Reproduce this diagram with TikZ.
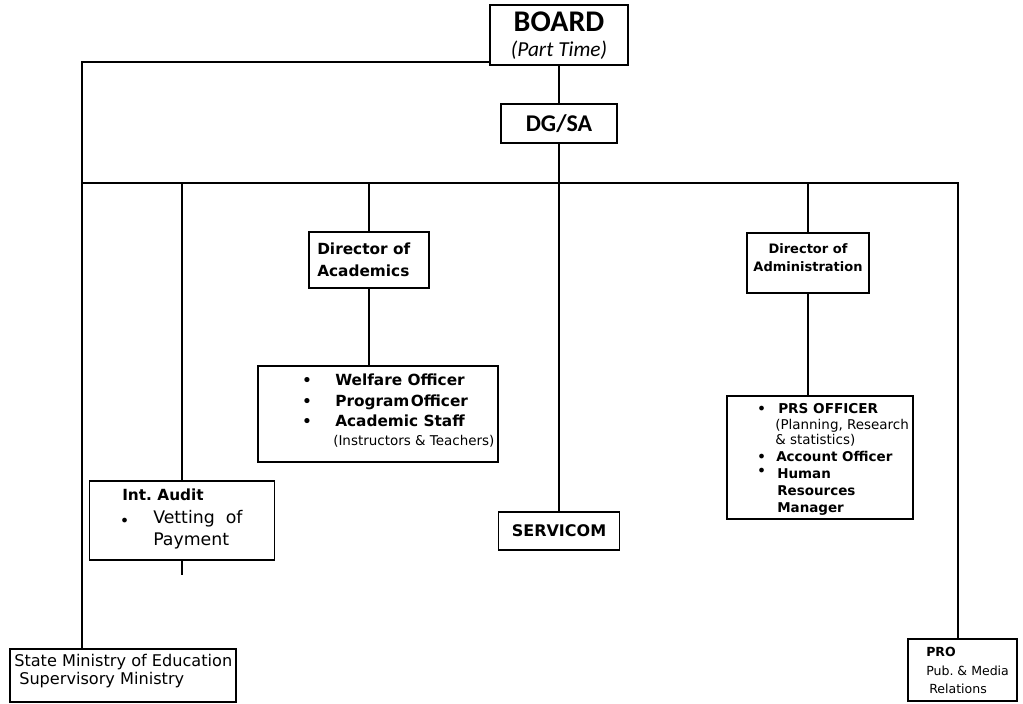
\documentclass[tikz,border=0pt]{standalone}
\usepackage{fontspec}
\setmainfont{DejaVu Sans}
\newfontfamily\carl{Carlito}
\newcommand\fs[1]{\fontsize{#1}{#1}\selectfont}
\begin{document}
\begin{tikzpicture}[x=0.75pt,y=-0.75pt,
 sz/.style 2 args={minimum width=#1*0.75pt, minimum height=#2*0.75pt},
 thinbox/.style={draw, line width=1.1pt, inner sep=0pt},
 thickbox/.style={draw, line width=2.2pt, inner sep=0pt},
 medbox/.style={draw, line width=1.7pt, inner sep=0pt},
 conn/.style={line width=1.1pt},
 lbl/.style={anchor=mid west, inner sep=0pt},
 ctr/.style={inner sep=0pt},
]
\path[use as bounding box] (0,0) rectangle (1023,703);

% boxes
\node[thickbox, sz={138}{60}] (board) at (559,35) {};
\node[ctr, font=\carl\bfseries\fs{22.5}] (boardt) at (559,22) {BOARD};
\node[ctr, font=\carl\itshape\fs{16}] (boardpt) at (559,50) {(Part Time)};

\node[thickbox, sz={116}{39}, font=\carl\bfseries\fs{18}] (dgsa) at (559,123.5) {DG/SA};

\node[medbox, sz={120}{56}] (acad) at (369,260) {};
\node[lbl, font=\bfseries\fs{11.5}] (acad1) at (317,251) {Director of};
\node[lbl, font=\bfseries\fs{11.5}] (acad2) at (317,273) {Academics};

\node[thinbox, sz={240}{96}] (welf) at (378,414) {};
\node[lbl, font=\bfseries\fs{11}] (wb1) at (302,382) {•};
\node[lbl, font=\bfseries\fs{11}] (wb2) at (302,403) {•};
\node[lbl, font=\bfseries\fs{11}] (wb3) at (302,423) {•};
\node[lbl, font=\bfseries\fs{11.5}] (w1) at (335,382) {Welfare Officer};
\node[lbl, font=\bfseries\fs{11.5}] (w2) at (335,403) {Program\hspace{1pt}Officer};
\node[lbl, font=\bfseries\fs{11.5}] (w3) at (335,423) {Academic Staff};
\node[lbl, font=\fs{10.1}] (w4) at (333,442) {(Instructors \& Teachers)};

\node[thinbox, sz={122}{60}] (admin) at (808,263) {};
\node[ctr, font=\bfseries\fs{9.75}] (ad1) at (808,249) {Director of};
\node[ctr, font=\bfseries\fs{9.75}] (ad2) at (808,267) {Administration};

\node[thinbox, sz={186}{123}] (prs) at (820,457.5) {};
\node[lbl, font=\bfseries\fs{10}] (pb1) at (757,410) {•};
\node[lbl, font=\bfseries\fs{10}] (pb2) at (757,458) {•};
\node[lbl, font=\bfseries\fs{10}] (pb3) at (757,472) {•};
\node[lbl, font=\bfseries\fs{10.2}] (p1) at (778,410) {PRS OFFICER};
\node[lbl, font=\fs{10.1}] (p2) at (775,426) {(Planning, Research};
\node[lbl, font=\fs{10.1}] (p3) at (775,441) {\& statistics)};
\node[lbl, font=\bfseries\fs{10.1}] (p4) at (776,458) {Account Officer};
\node[lbl, font=\bfseries\fs{10.1}] (p5) at (777,475) {Human};
\node[lbl, font=\bfseries\fs{10.1}] (p6) at (777,492) {Resources};
\node[lbl, font=\bfseries\fs{10.1}] (p7) at (777,509) {Manager};

\node[thinbox, sz={185}{79}] (audit) at (182,520.5) {};
\node[lbl, font=\bfseries\fs{11.5}] (a1) at (122,497) {Int.\ Audit};
\node[lbl, font=\bfseries\fs{10}] (ab) at (120,522) {•};
\node[lbl, font=\fs{13}] (a2) at (153,520) {Vetting\ \ of};
\node[lbl, font=\fs{13}] (a3) at (153,542) {Payment};

\node[thinbox, sz={121}{38}, font=\bfseries\fs{12}] (servicom) at (559,531) {SERVICOM};

\node[thinbox, sz={226}{53}] (state) at (123,675.5) {};
\node[lbl, font=\fs{12.1}] (s1) at (14,663) {State Ministry of Education};
\node[lbl, font=\fs{12.1}] (s2) at (19,681) {Supervisory Ministry};

\node[thinbox, sz={109}{62}] (pro) at (962.5,670) {};
\node[lbl, font=\bfseries\fs{9.4}] (r1) at (926,653) {PRO};
\node[lbl, font=\fs{9.4}] (r2) at (926,672) {Pub.\ \& Media};
\node[lbl, font=\fs{9.4}] (r3) at (929,690) {Relations};

% connectors
\coordinate (tl) at (82,62);
\coordinate (bl) at (82,183);
\coordinate (br) at (958,183);
\coordinate (auditend) at (182,575);

\draw[conn] (board.west |- tl) -- (tl) -- (tl |- state.north);
\draw[conn] (board.south) -- (dgsa.north);
\draw[conn] (dgsa.south) -- (servicom.north);
\draw[conn] (bl) -- (br) -- (br |- pro.north);
\draw[conn] (bl -| audit.north) -- (audit.north);
\draw[conn] (audit.south) -- (auditend);
\draw[conn] (bl -| acad.north) -- (acad.north);
\draw[conn] (acad.south) -- (acad.south |- welf.north);
\draw[conn] (bl -| admin.north) -- (admin.north);
\draw[conn] (admin.south) -- (admin.south |- prs.north);
\end{tikzpicture}
\end{document}
